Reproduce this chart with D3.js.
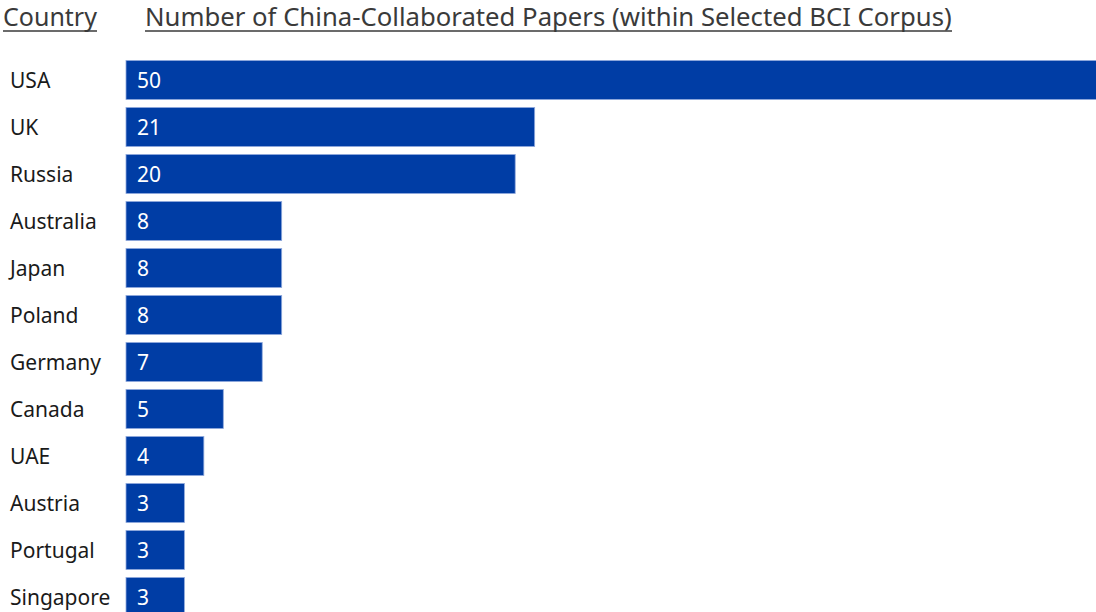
<!DOCTYPE html>
<html>
<head>
<meta charset="utf-8">
<script src="https://cdn.jsdelivr.net/npm/d3@7"></script>
<style>
  body { margin: 0; background: #fff; }
  text { font-family: "Noto Sans", Lato, sans-serif; }
</style>
</head>
<body>
<div class="barchart"></div>
<script>
// data
const countries = ["USA", "UK", "Russia", "Australia", "Japan", "Poland",
  "Germany", "Canada", "UAE", "Austria", "Portugal", "Singapore"];
const papers = [50, 21, 20, 8, 8, 8, 7, 5, 4, 3, 3, 3];
const headers = ["Country", "Number of China-Collaborated Papers (within Selected BCI Corpus)"];

const width = 1096, height = 612;
const step = 47, gap = 8;

const x = d3.scaleLinear()
  .domain([0, 50])
  .range([126, 1099]);

const y = d3.scaleBand()
  .domain(countries)
  .range([60.5, 60.5 + step * countries.length - gap])
  .paddingInner(gap / step)
  .paddingOuter(0);

const svg = d3.select(".barchart").append("svg")
  .attr("width", width)
  .attr("height", height);

// header labels, sized to the widths seen in the picture
const head = svg.append("g");
[[3, 97, headers[0]], [145, 952, headers[1]]].forEach(([x0, x1, t]) => {
  const txt = head.append("text")
    .attr("x", x0)
    .attr("y", 26)
    .attr("font-size", 22)
    .attr("fill", "#3a3a3a")
    .text(t);
  const w = txt.node().getComputedTextLength();
  txt.attr("font-size", 22 * (x1 - x0) / w);
  head.append("line")
    .attr("x1", x0).attr("x2", x1)
    .attr("y1", 31).attr("y2", 31)
    .attr("stroke", "#3a3a3a")
    .attr("stroke-width", 1.5);
});

const rows = svg.selectAll(".row")
  .data(countries)
  .enter().append("g")
    .attr("class", "row");

rows.append("rect")
  .attr("x", x(0))
  .attr("y", d => y(d))
  .attr("width", (d, i) => x(papers[i]) - x(0))
  .attr("height", y.bandwidth())
  .attr("fill", "#003da5")
  .attr("stroke", "#8fa9dc")
  .attr("stroke-width", 0.8);

rows.append("text")
  .attr("x", 10)
  .attr("y", d => y(d) + y.bandwidth() / 2)
  .attr("dy", "0.36em")
  .attr("font-size", 21)
  .attr("fill", "#1a1a1a")
  .text(d => d);

rows.append("text")
  .attr("x", x(0) + 11)
  .attr("y", d => y(d) + y.bandwidth() / 2)
  .attr("dy", "0.36em")
  .attr("font-size", 21)
  .attr("fill", "#fff")
  .text((d, i) => papers[i]);
</script>
</body>
</html>
